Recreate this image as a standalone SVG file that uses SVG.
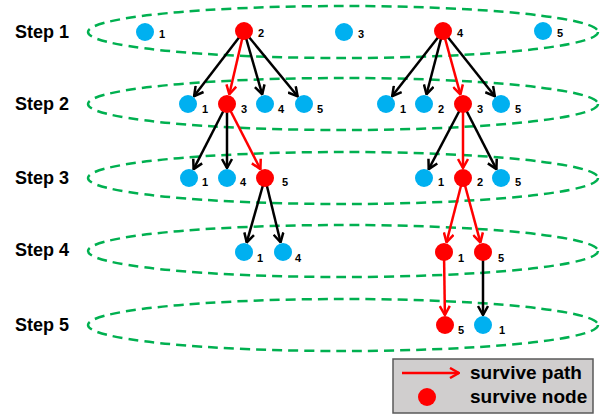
<svg xmlns="http://www.w3.org/2000/svg" width="612" height="416" viewBox="0 0 612 416">
<defs>
<style>
.ring{fill:none;stroke:#00b050;stroke-width:2.5;stroke-dasharray:10 6}
.step{font-family:"Liberation Sans",Arial,sans-serif;font-weight:bold;font-size:18px;fill:#000}
.lbl{font-family:"Liberation Sans",Arial,sans-serif;font-weight:bold;font-size:11px;fill:#000}
.leg{font-family:"Liberation Sans",Arial,sans-serif;font-weight:bold;font-size:19px;fill:#000}
.blue{fill:#00b0f0}
.red{fill:#ff0000}
.eb{stroke:#000;stroke-width:2.5;fill:none;marker-end:url(#ab)}
.er{stroke:#ff0000;stroke-width:2.5;fill:none;marker-end:url(#ar)}
</style>
<marker id="ab" viewBox="0 0 12 12" refX="11" refY="6" markerWidth="12" markerHeight="12" markerUnits="userSpaceOnUse" orient="auto">
<path d="M2,1 L11,6 L2,11" fill="none" stroke="#000" stroke-width="2.5"/>
</marker>
<marker id="ar" viewBox="0 0 12 12" refX="11" refY="6" markerWidth="12" markerHeight="12" markerUnits="userSpaceOnUse" orient="auto">
<path d="M2,1 L11,6 L2,11" fill="none" stroke="#ff0000" stroke-width="2.5"/>
</marker>
</defs>
<rect width="612" height="416" fill="#fff"/>
<g id="steps">
<ellipse class="ring" cx="343" cy="32" rx="255" ry="26"/>
<ellipse class="ring" cx="343" cy="104" rx="255" ry="26"/>
<ellipse class="ring" cx="343" cy="178" rx="255" ry="26"/>
<ellipse class="ring" cx="343" cy="251" rx="255" ry="26"/>
<ellipse class="ring" cx="343" cy="325" rx="255" ry="26"/>
<text class="step" x="15" y="38">Step 1</text>
<text class="step" x="15" y="110">Step 2</text>
<text class="step" x="15" y="184">Step 3</text>
<text class="step" x="15" y="256">Step 4</text>
<text class="step" x="15" y="331">Step 5</text>
</g>
<g id="connectors">
<line class="eb" x1="244" y1="31" x2="194.1" y2="96.1"/>
<line class="er" x1="244" y1="31" x2="229.3" y2="94.3"/>
<line class="eb" x1="244" y1="31" x2="262.2" y2="94.4"/>
<line class="eb" x1="244" y1="31" x2="297.6" y2="96.3"/>
<line class="eb" x1="443" y1="31" x2="392.2" y2="96.1"/>
<line class="eb" x1="443" y1="31" x2="426.5" y2="94.3"/>
<line class="er" x1="443" y1="31" x2="460.4" y2="94.4"/>
<line class="eb" x1="443" y1="31" x2="494.8" y2="96.2"/>
<line class="eb" x1="227" y1="104" x2="193.6" y2="169.1"/>
<line class="eb" x1="227" y1="104" x2="227" y2="168"/>
<line class="er" x1="227" y1="104" x2="260.4" y2="169.1"/>
<line class="eb" x1="463" y1="104" x2="428.7" y2="169.1"/>
<line class="er" x1="463" y1="104" x2="463" y2="168"/>
<line class="eb" x1="463" y1="104" x2="496.4" y2="169.1"/>
<line class="eb" x1="265" y1="178" x2="246.7" y2="242.4"/>
<line class="eb" x1="265" y1="178" x2="280.6" y2="242.3"/>
<line class="er" x1="463" y1="178" x2="446.5" y2="242.3"/>
<line class="er" x1="463" y1="178" x2="480.4" y2="242.4"/>
<line class="er" x1="444" y1="252" x2="444.9" y2="315"/>
<line class="eb" x1="483" y1="252" x2="483" y2="315"/>
</g>
<g id="s1n1"><circle class="blue" cx="145" cy="32" r="9"/><text class="lbl" x="159" y="38">1</text></g>
<g id="s1n2"><circle class="red" cx="244" cy="31" r="9"/><text class="lbl" x="258" y="37">2</text></g>
<g id="s1n3"><circle class="blue" cx="344" cy="32" r="9"/><text class="lbl" x="358" y="38">3</text></g>
<g id="s1n4"><circle class="red" cx="443" cy="31" r="9"/><text class="lbl" x="457" y="37">4</text></g>
<g id="s1n5"><circle class="blue" cx="543" cy="31" r="9"/><text class="lbl" x="557" y="37">5</text></g>
<g id="s2a1"><circle class="blue" cx="188" cy="104" r="9"/><text class="lbl" x="202" y="113">1</text></g>
<g id="s2a3"><circle class="red" cx="227" cy="104" r="9"/><text class="lbl" x="241" y="113">3</text></g>
<g id="s2a4"><circle class="blue" cx="265" cy="104" r="9"/><text class="lbl" x="278" y="113">4</text></g>
<g id="s2a5"><circle class="blue" cx="304" cy="104" r="9"/><text class="lbl" x="317" y="113">5</text></g>
<g id="s2b1"><circle class="blue" cx="386" cy="104" r="9"/><text class="lbl" x="400" y="113">1</text></g>
<g id="s2b2"><circle class="blue" cx="424" cy="104" r="9"/><text class="lbl" x="438" y="113">2</text></g>
<g id="s2b3"><circle class="red" cx="463" cy="104" r="9"/><text class="lbl" x="477" y="113">3</text></g>
<g id="s2b5"><circle class="blue" cx="501" cy="104" r="9"/><text class="lbl" x="515" y="113">5</text></g>
<g id="s3a1"><circle class="blue" cx="189" cy="178" r="9"/><text class="lbl" x="202" y="186">1</text></g>
<g id="s3a4"><circle class="blue" cx="227" cy="178" r="9"/><text class="lbl" x="240" y="186">4</text></g>
<g id="s3a5"><circle class="red" cx="265" cy="178" r="9"/><text class="lbl" x="282" y="186">5</text></g>
<g id="s3b1"><circle class="blue" cx="424" cy="178" r="9"/><text class="lbl" x="438" y="186">1</text></g>
<g id="s3b2"><circle class="red" cx="463" cy="178" r="9"/><text class="lbl" x="477" y="186">2</text></g>
<g id="s3b5"><circle class="blue" cx="501" cy="178" r="9"/><text class="lbl" x="515" y="186">5</text></g>
<g id="s4a1"><circle class="blue" cx="244" cy="252" r="9"/><text class="lbl" x="257" y="262">1</text></g>
<g id="s4a4"><circle class="blue" cx="283" cy="252" r="9"/><text class="lbl" x="295" y="262">4</text></g>
<g id="s4b1"><circle class="red" cx="444" cy="252" r="9"/><text class="lbl" x="458" y="262">1</text></g>
<g id="s4b5"><circle class="red" cx="483" cy="252" r="9"/><text class="lbl" x="498" y="262">5</text></g>
<g id="s5b5"><circle class="red" cx="445" cy="325" r="9"/><text class="lbl" x="458" y="334">5</text></g>
<g id="s5b1"><circle class="blue" cx="483" cy="325" r="9"/><text class="lbl" x="499" y="334">1</text></g>
<g id="legend">
<rect x="393" y="359" width="200" height="54" fill="#d0cece" stroke="#595959" stroke-width="1.5"/>
<line class="er" x1="402" y1="373" x2="459" y2="373"/>
<circle class="red" cx="427" cy="397" r="9"/>
<text class="leg" x="470" y="379">survive path</text>
<text class="leg" x="470" y="403">survive node</text>
</g>
</svg>
